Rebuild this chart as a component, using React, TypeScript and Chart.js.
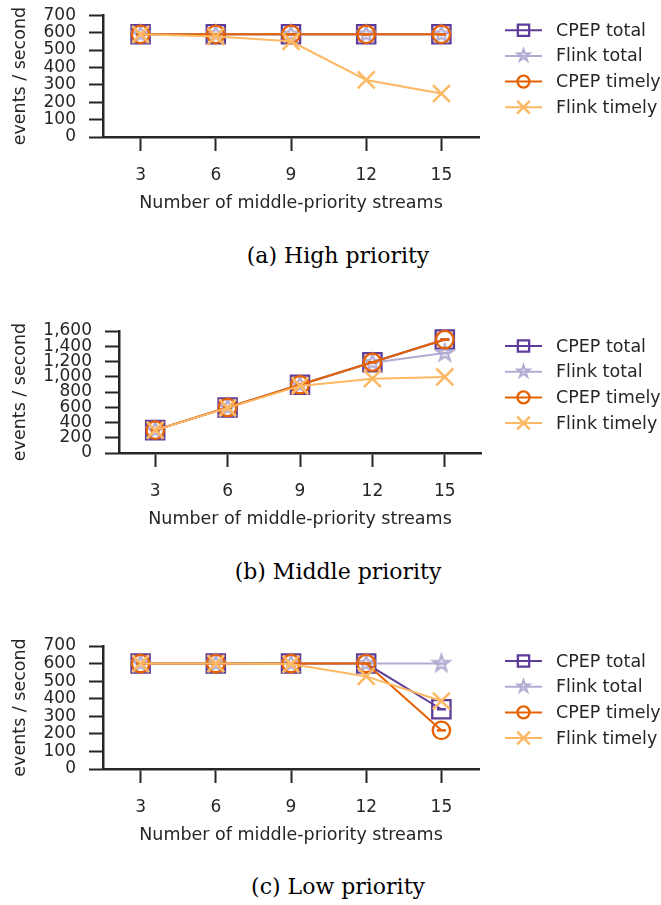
import React, { useEffect, useRef } from 'react';
import { Chart, registerables } from 'chart.js';
import { drawPoint } from 'chart.js/helpers';

Chart.register(...registerables);

// ---------------- data ----------------
const streams = [3, 6, 9, 12, 15];
const seriesNames = ['CPEP total', 'Flink total', 'CPEP timely', 'Flink timely'];

const highCpepTotal = [590, 590, 590, 590, 590];
const highFlinkTotal = [590, 590, 590, 590, 590];
const highCpepTimely = [590, 590, 590, 590, 590];
const highFlinkTimely = [590, 578, 550, 328, 250];

const middleCpepTotal = [300, 597, 895, 1190, 1488];
const middleFlinkTotal = [300, 597, 893, 1185, 1310];
const middleCpepTimely = [300, 597, 895, 1190, 1488];
const middleFlinkTimely = [300, 592, 880, 975, 997];

const lowCpepTotal = [600, 600, 600, 600, 340];
const lowFlinkTotal = [600, 600, 600, 600, 600];
const lowCpepTimely = [600, 600, 600, 600, 220];
const lowFlinkTimely = [600, 600, 597, 527, 387];

const highYTicks = [0, 100, 200, 300, 400, 500, 600, 700];
const middleYTicks = [0, 200, 400, 600, 800, 1000, 1200, 1400, 1600];
const lowYTicks = [0, 100, 200, 300, 400, 500, 600, 700];

const captions = ['(a) High priority', '(b) Middle priority', '(c) Low priority'];
const xTitle = 'Number of middle-priority streams';
const yTitle = 'events / second';

// ---------------- styles ----------------
const seriesColors = ['#5e3c99', '#b2abd2', '#e66101', '#fdb863'];
const axisColor = '#262626';
const fontFamily = '"DejaVu Sans", "Noto Sans", sans-serif';
const tickFontSize = 17;
const titleFontSize = 17.5;

function makeStar(R: number, color: string, lw: number): HTMLCanvasElement {
  const size = Math.ceil(2 * R + lw * 2 + 4);
  const c = document.createElement('canvas');
  c.width = size;
  c.height = size;
  const ctx = c.getContext('2d')!;
  const cx = size / 2;
  const cy = size / 2;
  ctx.beginPath();
  for (let k = 0; k < 10; k++) {
    const r = k % 2 === 0 ? R : R * 0.382;
    const a = -Math.PI / 2 + (k * Math.PI) / 5;
    const px = cx + r * Math.cos(a);
    const py = cy + r * Math.sin(a);
    if (k === 0) ctx.moveTo(px, py);
    else ctx.lineTo(px, py);
  }
  ctx.closePath();
  ctx.lineJoin = 'miter';
  ctx.strokeStyle = color;
  ctx.lineWidth = lw;
  ctx.stroke();
  return c;
}

const sideLegend = {
  id: 'sideLegend',
  afterDraw(chart: any) {
    const ctx = chart.ctx;
    const opts = chart.options.plugins.sideLegend;
    const area = chart.chartArea;
    let y = area.top + opts.firstOffset;
    chart.data.datasets.forEach((ds: any) => {
      ctx.save();
      ctx.strokeStyle = ds.borderColor;
      ctx.lineWidth = 2;
      ctx.beginPath();
      ctx.moveTo(opts.lineStart, y);
      ctx.lineTo(opts.lineEnd, y);
      ctx.stroke();
      const mx = (opts.lineStart + opts.lineEnd) / 2;
      if (ds.legendStar) {
        const img = ds.legendStar as HTMLCanvasElement;
        ctx.drawImage(img, Math.round(mx - img.width / 2), Math.round(y - img.height / 2));
      } else {
        ctx.strokeStyle = ds.borderColor;
        ctx.fillStyle = 'rgba(0,0,0,0)';
        ctx.lineWidth = ds.pointBorderWidth;
        drawPoint(ctx, { pointStyle: ds.pointStyle, rotation: 0, radius: ds.legendRadius, borderWidth: ds.pointBorderWidth } as any, mx, y);
      }
      ctx.fillStyle = axisColor;
      ctx.font = `${titleFontSize}px ${fontFamily}`;
      ctx.textBaseline = 'middle';
      ctx.textAlign = 'left';
      ctx.fillText(ds.label, opts.textX, y + 1);
      ctx.restore();
      y += opts.rowGap;
    });
  },
};

const capDash = {
  id: 'capDash',
  afterDatasetDraw(chart: any, args: any) {
    const ds = chart.data.datasets[args.index];
    if (ds.pointStyle === 'crossRot') return;
    const ctx = chart.ctx;
    ctx.save();
    ctx.strokeStyle = ds.borderColor;
    ctx.lineWidth = 2.5;
    args.meta.data.forEach((pt: any) => {
      ctx.beginPath();
      ctx.moveTo(pt.x - 4.5, pt.y);
      ctx.lineTo(pt.x + 4.5, pt.y);
      ctx.stroke();
    });
    ctx.restore();
  },
};

type Cfg = {
  top: number;
  height: number;
  padTop: number;
  padRight: number;
  axisLeft: number;
  yMax: number;
  yTicks: number[];
  values: number[][];
};

const charts: Cfg[] = [
  { top: 0, height: 221, padTop: 14, padRight: 182, axisLeft: 103, yMax: 700, yTicks: highYTicks, values: [highCpepTotal, highFlinkTotal, highCpepTimely, highFlinkTimely] },
  { top: 300, height: 237, padTop: 31, padRight: 180, axisLeft: 119, yMax: 1600, yTicks: middleYTicks, values: [middleCpepTotal, middleFlinkTotal, middleCpepTimely, middleFlinkTimely] },
  { top: 620, height: 233, padTop: 26, padRight: 182, axisLeft: 103, yMax: 700, yTicks: lowYTicks, values: [lowCpepTotal, lowFlinkTotal, lowCpepTimely, lowFlinkTimely] },
];

const captionTops = [243, 559, 874];

function PriorityChart({ cfg }: { cfg: Cfg }) {
  const ref = useRef<HTMLCanvasElement>(null);
  useEffect(() => {
    const plotStar = makeStar(8.5, seriesColors[1], 2.2);
    const legendStar = makeStar(6.3, seriesColors[1], 2);
    const styles: any[] = ['rect', plotStar, 'circle', 'crossRot'];
    const radii = [12.9, 9, 8.7, 12];
    const legendRadii = [8, 6, 6, 9];
    const borderWidths = [2.3, 2.2, 2.3, 2.5];
    const datasets = cfg.values.map((vals, i) => ({
      label: seriesNames[i],
      data: streams.map((x, j) => ({ x, y: vals[j] })),
      borderColor: seriesColors[i],
      backgroundColor: 'rgba(0,0,0,0)',
      pointBackgroundColor: 'rgba(0,0,0,0)',
      pointBorderColor: seriesColors[i],
      pointBorderWidth: borderWidths[i],
      pointStyle: styles[i],
      pointRadius: radii[i],
      legendRadius: legendRadii[i],
      legendStar: i === 1 ? legendStar : null,
      borderWidth: 2,
      tension: 0,
      clip: false,
      order: 4 - i,
    }));
    const tickFont = { family: fontFamily, size: tickFontSize, lineHeight: 1.2 };
    const titleFont = { family: fontFamily, size: titleFontSize, lineHeight: 1.2 };
    const chart = new Chart(ref.current!, {
      type: 'line',
      data: { datasets: datasets as any },
      plugins: [sideLegend as any, capDash as any],
      options: {
        responsive: false,
        animation: false,
        devicePixelRatio: 1,
        events: [],
        layout: { padding: { top: cfg.padTop, right: cfg.padRight, bottom: 0, left: 0 } },
        plugins: {
          legend: { display: false },
          tooltip: { enabled: false },
          sideLegend: { lineStart: 505, lineEnd: 542, textX: 556, firstOffset: 15, rowGap: 25.7 },
        } as any,
        scales: {
          x: {
            type: 'linear',
            min: 1.5,
            max: 16.5,
            afterBuildTicks: (s: any) => {
              s.ticks = streams.map((v) => ({ value: v }));
            },
            afterFit: (s: any) => {
              s.height = 84;
              s.paddingLeft = 0;
              s.paddingRight = 0;
            },
            grid: { display: true, drawOnChartArea: false, drawTicks: true, tickLength: 14, tickWidth: 2, tickColor: axisColor },
            border: { display: true, color: axisColor, width: 2.5 },
            ticks: { font: tickFont, color: axisColor, padding: 14.5, maxRotation: 0, autoSkip: false, callback: (v: any) => String(v) },
            title: { display: true, text: xTitle, font: titleFont, color: axisColor, padding: { top: 0, bottom: 7.5 } },
          },
          y: {
            type: 'linear',
            min: 0,
            max: cfg.yMax,
            afterBuildTicks: (s: any) => {
              s.ticks = cfg.yTicks.map((v) => ({ value: v }));
            },
            afterFit: (s: any) => {
              s.width = cfg.axisLeft;
              s.paddingTop = 0;
              s.paddingBottom = 0;
            },
            grid: { display: true, drawOnChartArea: false, drawTicks: true, tickLength: 14, tickWidth: 2, tickColor: axisColor },
            border: { display: true, color: axisColor, width: 2.5 },
            ticks: { font: tickFont, color: axisColor, padding: 13, autoSkip: false, callback: (v: any) => Number(v).toLocaleString('en-US') },
            title: { display: true, text: yTitle, font: titleFont, color: axisColor, padding: { top: 9.5, bottom: 0 } },
          },
        },
      } as any,
    });
    return () => chart.destroy();
  }, []);
  return (
    <canvas
      ref={ref}
      width={661}
      height={cfg.height}
      style={{ position: 'absolute', left: 0, top: cfg.top, width: 661, height: cfg.height }}
    />
  );
}

export default function App() {
  return (
    <div style={{ position: 'absolute', left: 0, top: 0, width: 661, height: 905, overflow: 'hidden', background: '#fff' }}>
      {charts.map((c, i) => (
        <PriorityChart key={i} cfg={c} />
      ))}
      {captions.map((t, i) => (
        <div
          key={t}
          style={{
            position: 'absolute',
            left: 188,
            width: 300,
            top: captionTops[i],
            textAlign: 'center',
            fontFamily: '"DejaVu Serif", serif',
            fontSize: 22,
            lineHeight: '26px',
            color: '#000',
            whiteSpace: 'nowrap',
          }}
        >
          {t}
        </div>
      ))}
    </div>
  );
}
